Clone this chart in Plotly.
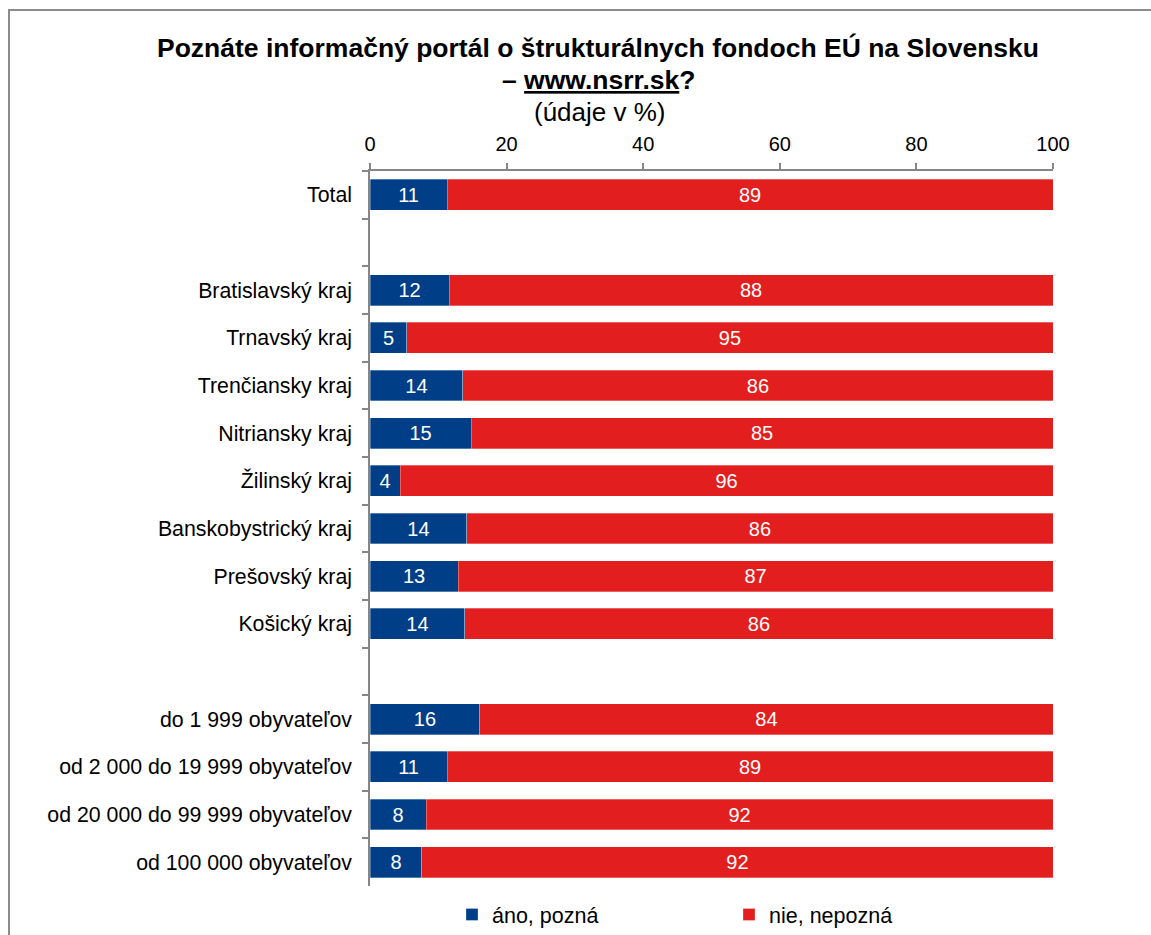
import plotly.graph_objects as go

categories = ["Total", " ", "Bratislavský kraj", "Trnavský kraj", "Trenčiansky kraj",
              "Nitriansky kraj", "Žilinský kraj", "Banskobystrický kraj", "Prešovský kraj",
              "Košický kraj", "  ", "do 1 999 obyvateľov", "od 2 000 do 19 999 obyvateľov",
              "od 20 000 do 99 999 obyvateľov", "od 100 000 obyvateľov"]
ano_pozna = [11.3, None, 11.6, 5.4, 13.6, 14.8, 4.4, 14.2, 12.9, 13.9, None, 16.1, 11.3, 8.2, 7.6]
nie_nepozna = [88.7, None, 88.4, 94.6, 86.4, 85.2, 95.6, 85.8, 87.1, 86.1, None, 83.9, 88.7, 91.8, 92.4]
series_names = ["áno, pozná", "nie, nepozná"]
x_ticks = [0, 20, 40, 60, 80, 100]

BLUE = "#003f87"
RED = "#e31e1e"
FONT = "Liberation Sans, Arial, sans-serif"

W, H = 1151, 935
L, R, T, B = 370, 98, 171, 49
PW, PH = W - L - R, H - T - B


def px(x):
    return (x - L) / PW


def py(y):
    return (H - B - y) / PH


fig = go.Figure()
for name, vals, col in [(series_names[0], ano_pozna, BLUE), (series_names[1], nie_nepozna, RED)]:
    fig.add_trace(go.Bar(
        y=categories, x=vals, name=name, orientation="h",
        marker=dict(color=col, line=dict(color="rgba(255,255,255,0.5)", width=0.6)),
        texttemplate="%{x:.0f}", textposition="inside", insidetextanchor="middle",
        textfont=dict(color="white", size=20, family=FONT),
        hoverinfo="skip",
    ))

fig.update_layout(
    width=W, height=H, barmode="stack", bargap=0.35,
    margin=dict(l=L, r=R, t=T, b=B, autoexpand=False),
    paper_bgcolor="white", plot_bgcolor="white",
    font=dict(family=FONT, size=21, color="black"),
    xaxis=dict(side="top", range=[0, 100], tickvals=x_ticks, showgrid=False, zeroline=False,
               showline=True, linecolor="#868686", linewidth=1.5, ticks="outside",
               ticklen=6, tickcolor="#868686", tickwidth=1.5,
               tickfont=dict(size=20), ticklabelstandoff=4, fixedrange=True),
    yaxis=dict(categoryorder="array", categoryarray=categories, autorange="reversed",
               showgrid=False, zeroline=False, showline=True, linecolor="#868686",
               linewidth=1.5, ticks="outside", tickson="boundaries", ticklen=6,
               tickcolor="#868686", tickwidth=1.5, tickfont=dict(size=21.3),
               ticklabelstandoff=12, fixedrange=True),
    showlegend=True,
    legend=dict(orientation="h", x=px(452), y=py(894), xanchor="left", yanchor="top",
                entrywidth=232, entrywidthmode="pixels", font=dict(size=21.5),
                itemwidth=30, traceorder="normal"),
)

fig.add_annotation(xref="paper", yref="paper", x=px(598), y=py(48), xanchor="center", yanchor="middle",
                   text="<b>Poznáte informačný portál o štrukturálnych fondoch EÚ na Slovensku</b>",
                   showarrow=False, font=dict(size=26.5))
fig.add_annotation(xref="paper", yref="paper", x=px(598), y=py(80), xanchor="center", yanchor="middle",
                   text="<b>– <u>www.nsrr.sk</u>?</b>", showarrow=False, font=dict(size=26.5))
fig.add_annotation(xref="paper", yref="paper", x=px(600), y=py(112), xanchor="center", yanchor="middle",
                   text="(údaje v %)", showarrow=False, font=dict(size=26))

# outer frame of the chart
fig.add_shape(type="rect", xref="paper", yref="paper", x0=px(9), x1=px(1300), y0=py(1100), y1=py(10),
              line=dict(color="#8c8c8c", width=2), fillcolor="rgba(0,0,0,0)", layer="below")

fig.write_html("out.html", post_script="document.body.style.margin='0';",
               config={"displayModeBar": False})
